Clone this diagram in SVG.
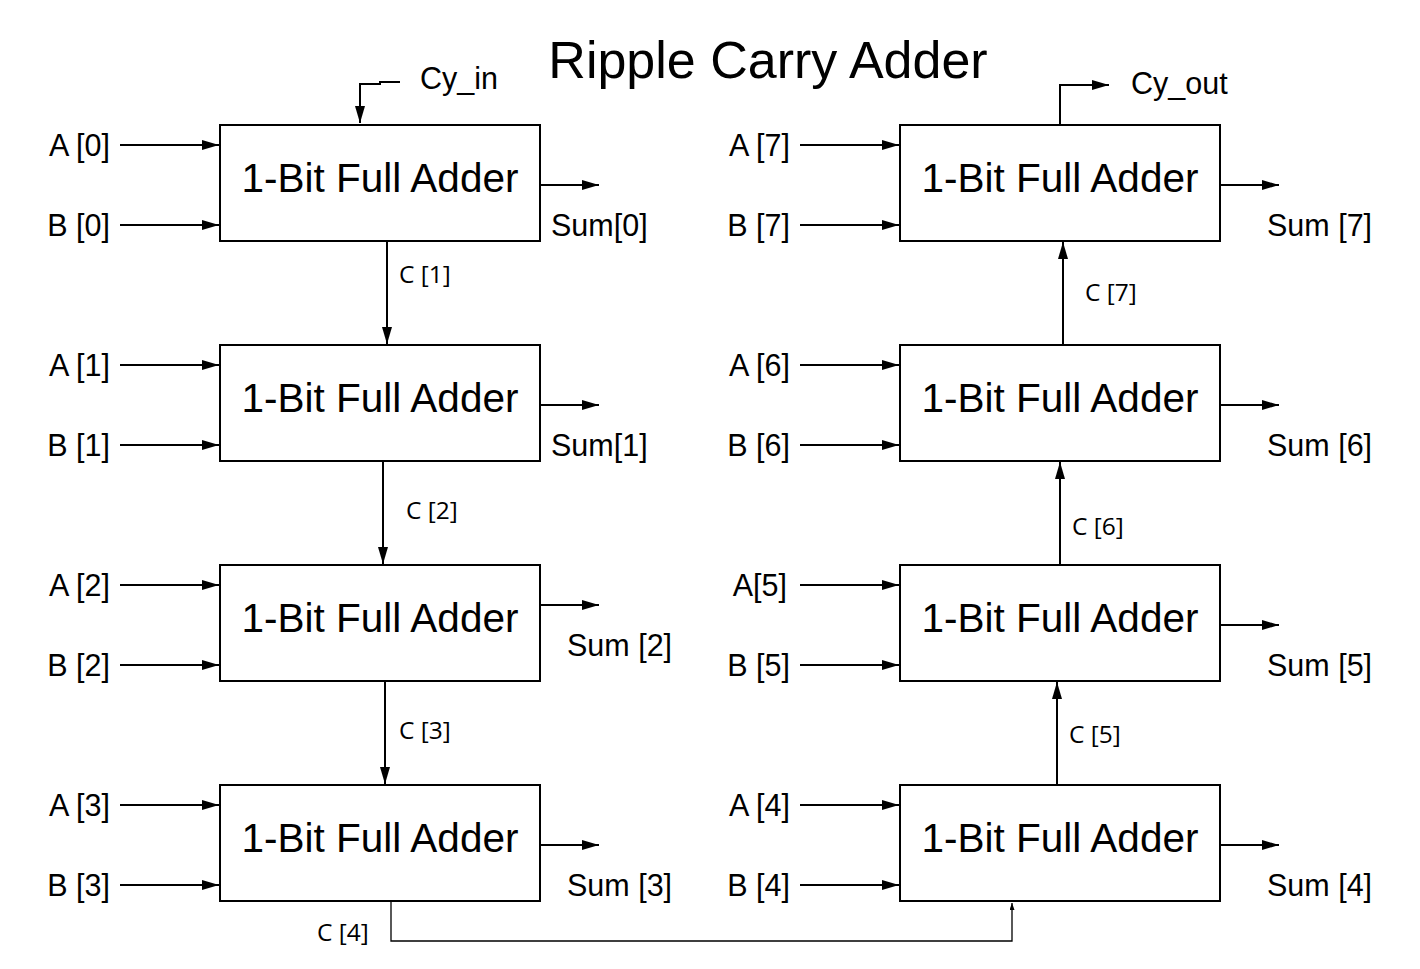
<svg xmlns="http://www.w3.org/2000/svg" width="1420" height="969" viewBox="0 0 1420 969">
<style>
.box{fill:#fff;stroke:#000;stroke-width:2}
.fa{font-family:"Liberation Sans",Arial,sans-serif;font-size:40.5px;text-anchor:middle;fill:#000}
.lbl{font-family:"Liberation Sans",Arial,sans-serif;font-size:30.5px;fill:#000}
.end{text-anchor:end}
.c{font-family:"Open Sans","Noto Sans",sans-serif;font-size:24.5px;fill:#000}
.w{fill:none;stroke:#000;stroke-width:2}
.t{fill:none;stroke:#000;stroke-width:1.3}
</style>
<defs>
<marker id="ah2" viewBox="0 0 10 10" refX="10" refY="5" markerWidth="17" markerHeight="10" markerUnits="userSpaceOnUse" orient="auto" preserveAspectRatio="none">
<path d="M0,0 L10,5 L0,10 z" fill="#000"/>
</marker>
<marker id="ah3" viewBox="0 0 10 10" refX="10" refY="5" markerWidth="7" markerHeight="5" markerUnits="userSpaceOnUse" orient="auto" preserveAspectRatio="none">
<path d="M0,0 L10,5 L0,10 z" fill="#000"/>
</marker>
</defs>
<rect width="1420" height="969" fill="#fff"/>
<text x="768" y="78" font-family="Liberation Sans, Arial, sans-serif" font-size="52" text-anchor="middle">Ripple Carry Adder</text>

<g id="connectors">
<path class="w" marker-end="url(#ah2)" d="M120,145 H219"/>
<path class="w" marker-end="url(#ah2)" d="M120,225 H219"/>
<path class="w" marker-end="url(#ah2)" d="M120,365 H219"/>
<path class="w" marker-end="url(#ah2)" d="M120,445 H219"/>
<path class="w" marker-end="url(#ah2)" d="M120,585 H219"/>
<path class="w" marker-end="url(#ah2)" d="M120,665 H219"/>
<path class="w" marker-end="url(#ah2)" d="M120,805 H219"/>
<path class="w" marker-end="url(#ah2)" d="M120,885 H219"/>
<path class="w" marker-end="url(#ah2)" d="M800,145 H899"/>
<path class="w" marker-end="url(#ah2)" d="M800,225 H899"/>
<path class="w" marker-end="url(#ah2)" d="M800,365 H899"/>
<path class="w" marker-end="url(#ah2)" d="M800,445 H899"/>
<path class="w" marker-end="url(#ah2)" d="M800,585 H899"/>
<path class="w" marker-end="url(#ah2)" d="M800,665 H899"/>
<path class="w" marker-end="url(#ah2)" d="M800,805 H899"/>
<path class="w" marker-end="url(#ah2)" d="M800,885 H899"/>
<path class="w" marker-end="url(#ah2)" d="M541,185 H599"/>
<path class="w" marker-end="url(#ah2)" d="M541,405 H599"/>
<path class="w" marker-end="url(#ah2)" d="M541,605 H599"/>
<path class="w" marker-end="url(#ah2)" d="M541,845 H599"/>
<path class="w" marker-end="url(#ah2)" d="M1221,185 H1279"/>
<path class="w" marker-end="url(#ah2)" d="M1221,405 H1279"/>
<path class="w" marker-end="url(#ah2)" d="M1221,625 H1279"/>
<path class="w" marker-end="url(#ah2)" d="M1221,845 H1279"/>
<path class="w" marker-end="url(#ah2)" d="M400,82 H380 V84 H360 V123"/>
<path class="w" marker-end="url(#ah2)" d="M387,242 V344"/>
<path class="w" marker-end="url(#ah2)" d="M383,462 V564"/>
<path class="w" marker-end="url(#ah2)" d="M385,682 V784"/>
<path class="t" marker-end="url(#ah3)" d="M391,902 V941 H1012 V903"/>
<path class="w" marker-end="url(#ah2)" d="M1057,784 V682"/>
<path class="w" marker-end="url(#ah2)" d="M1060,564 V462"/>
<path class="w" marker-end="url(#ah2)" d="M1063,344 V242"/>
<path class="w" marker-end="url(#ah2)" d="M1060,124 V85 H1109"/>
</g>

<g id="labels">
<text class="lbl" x="420" y="89">Cy_in</text>
<text class="lbl" x="1131" y="94">Cy_out</text>
<text class="lbl end" x="110" y="156">A [0]</text>
<text class="lbl end" x="110" y="236">B [0]</text>
<text class="lbl end" x="110" y="376">A [1]</text>
<text class="lbl end" x="110" y="456">B [1]</text>
<text class="lbl end" x="110" y="596">A [2]</text>
<text class="lbl end" x="110" y="676">B [2]</text>
<text class="lbl end" x="110" y="816">A [3]</text>
<text class="lbl end" x="110" y="896">B [3]</text>
<text class="lbl end" x="790" y="156">A [7]</text>
<text class="lbl end" x="790" y="236">B [7]</text>
<text class="lbl end" x="790" y="376">A [6]</text>
<text class="lbl end" x="790" y="456">B [6]</text>
<text class="lbl end" x="787" y="596">A[5]</text>
<text class="lbl end" x="790" y="676">B [5]</text>
<text class="lbl end" x="790" y="816">A [4]</text>
<text class="lbl end" x="790" y="896">B [4]</text>
<text class="lbl" x="551" y="236">Sum[0]</text>
<text class="lbl" x="551" y="456">Sum[1]</text>
<text class="lbl" x="567" y="656">Sum [2]</text>
<text class="lbl" x="567" y="896">Sum [3]</text>
<text class="lbl" x="1267" y="236">Sum [7]</text>
<text class="lbl" x="1267" y="456">Sum [6]</text>
<text class="lbl" x="1267" y="676">Sum [5]</text>
<text class="lbl" x="1267" y="896">Sum [4]</text>
<text class="c" x="399" y="283">C [1]</text>
<text class="c" x="406" y="519">C [2]</text>
<text class="c" x="399" y="739">C [3]</text>
<text class="c" x="317" y="941">C [4]</text>
<text class="c" x="1069" y="743">C [5]</text>
<text class="c" x="1072" y="535">C [6]</text>
<text class="c" x="1085" y="301">C [7]</text>
</g>

<g id="fa0"><rect class="box" x="220" y="125" width="320" height="116"/><text class="fa" x="380" y="192">1-Bit Full Adder</text></g>
<g id="fa1"><rect class="box" x="220" y="345" width="320" height="116"/><text class="fa" x="380" y="412">1-Bit Full Adder</text></g>
<g id="fa2"><rect class="box" x="220" y="565" width="320" height="116"/><text class="fa" x="380" y="632">1-Bit Full Adder</text></g>
<g id="fa3"><rect class="box" x="220" y="785" width="320" height="116"/><text class="fa" x="380" y="852">1-Bit Full Adder</text></g>
<g id="fa7"><rect class="box" x="900" y="125" width="320" height="116"/><text class="fa" x="1060" y="192">1-Bit Full Adder</text></g>
<g id="fa6"><rect class="box" x="900" y="345" width="320" height="116"/><text class="fa" x="1060" y="412">1-Bit Full Adder</text></g>
<g id="fa5"><rect class="box" x="900" y="565" width="320" height="116"/><text class="fa" x="1060" y="632">1-Bit Full Adder</text></g>
<g id="fa4"><rect class="box" x="900" y="785" width="320" height="116"/><text class="fa" x="1060" y="852">1-Bit Full Adder</text></g>
</svg>
